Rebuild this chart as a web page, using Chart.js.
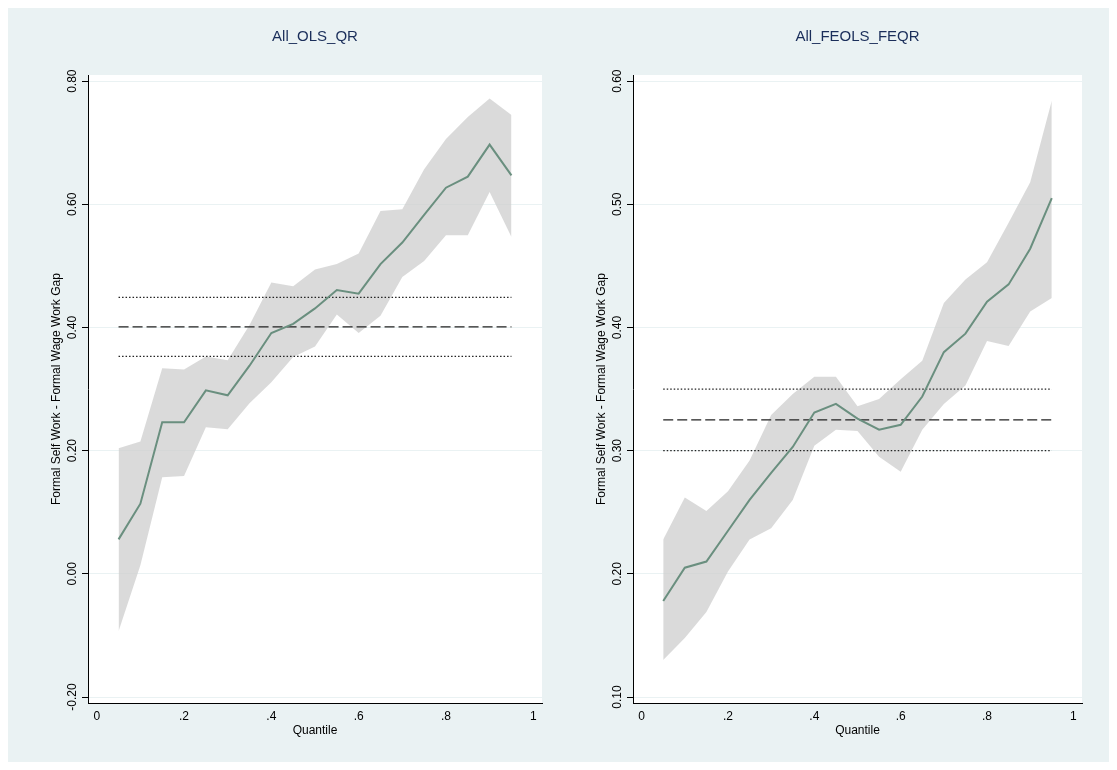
<!DOCTYPE html><html><head><script src="https://cdn.jsdelivr.net/npm/chart.js@4"></script>
<style>body{margin:0;background:#fff;width:1117px;height:770px;position:relative;overflow:hidden}
#bg{position:absolute;left:8px;top:8px;width:1101px;height:754px;background:#eaf2f3}
.c{position:absolute;top:10px;width:545px;height:750px}</style></head><body>
<div id="bg"></div>
<div class="c" style="left:10px"><canvas id="c1"></canvas></div>
<div class="c" style="left:555px"><canvas id="c2"></canvas></div>
<script>
const quantiles=[.05,.10,.15,.20,.25,.30,.35,.40,.45,.50,.55,.60,.65,.70,.75,.80,.85,.90,.95];
const olsCoef=[0.056,0.114,0.246,0.246,0.298,0.290,0.338,0.391,0.406,0.431,0.461,0.455,0.503,0.538,0.583,0.627,0.645,0.697,0.647];
const olsUpper=[0.204,0.215,0.334,0.332,0.353,0.347,0.404,0.473,0.467,0.494,0.503,0.520,0.589,0.592,0.657,0.706,0.742,0.772,0.745];
const olsLower=[-0.093,0.014,0.157,0.159,0.238,0.235,0.277,0.311,0.352,0.369,0.421,0.391,0.419,0.482,0.508,0.550,0.550,0.620,0.547];
const olsRef=[0.449,0.401,0.353];
const feCoef=[0.178,0.205,0.210,0.235,0.260,0.282,0.303,0.331,0.338,0.326,0.317,0.321,0.344,0.380,0.395,0.421,0.435,0.464,0.505];
const feUpper=[0.228,0.262,0.251,0.267,0.292,0.329,0.346,0.360,0.360,0.336,0.342,0.358,0.373,0.420,0.439,0.453,0.485,0.518,0.584];
const feLower=[0.130,0.148,0.169,0.202,0.228,0.237,0.260,0.304,0.317,0.316,0.295,0.283,0.317,0.338,0.353,0.389,0.385,0.413,0.424];
const feRef=[0.350,0.325,0.300];
const xTicks=[0,0.2,0.4,0.6,0.8,1];
const xLabels=['0','.2','.4','.6','.8','1'];
const olsTicks=[-0.2,0,0.2,0.4,0.6,0.8];
const feTicks=[0.1,0.2,0.3,0.4,0.5,0.6];
const yTitle='Formal Self Work - Formal Wage Work Gap';
const font='Arial, "Liberation Sans", sans-serif';
function pts(v){return quantiles.map((q,i)=>({x:q,y:v[i]}));}
function hline(y,dash){return {data:[{x:quantiles[0],y},{x:quantiles[quantiles.length-1],y}],borderColor:'#222',borderWidth:1.2,borderDash:dash,pointRadius:0,fill:false,order:1};}
function make(id,title,coef,up,lo,ref,ticks,padR){
 const yt={id:'yt',beforeDraw(ch){const a=ch.chartArea,c=ch.ctx;c.save();c.fillStyle='#fff';c.fillRect(a.left,a.top,a.right-a.left,a.bottom-a.top);c.restore();},
  afterDraw(ch){const c=ch.ctx,s=ch.scales.y,a=ch.chartArea;c.save();c.fillStyle='#000';
  c.font='12px '+font;c.textAlign='center';c.textBaseline='middle';
  ticks.forEach(t=>{c.save();c.translate(a.left-15,s.getPixelForValue(t));c.rotate(-Math.PI/2);c.fillText(t.toFixed(2),0,0);c.restore();});
  c.save();c.translate(a.left-31,(a.top+a.bottom)/2);c.rotate(-Math.PI/2);c.fillText(yTitle,0,0);c.restore();
  c.font='15px '+font;c.fillStyle='#1a2e5a';c.fillText(title,(a.left+a.right)/2,27);c.restore();}};
 new Chart(document.getElementById(id),{type:'line',data:{datasets:[
  {data:pts(coef),borderColor:'#6a8f7f',borderWidth:2,pointRadius:0,fill:false,tension:0,order:0},
  {data:pts(up),borderWidth:0,pointRadius:0,fill:'+1',backgroundColor:'rgba(205,205,205,0.75)',order:3},
  {data:pts(lo),borderWidth:0,pointRadius:0,fill:false,order:3},
  hline(ref[0],[1.5,2]),hline(ref[1],[10,4]),hline(ref[2],[1.5,2])]},
 options:{responsive:true,maintainAspectRatio:false,animation:false,
  layout:{padding:{top:65,right:padR,bottom:22,left:0}},
  plugins:{legend:{display:false},tooltip:{enabled:false}},
  scales:{x:{type:'linear',min:-0.02,max:1.02,afterBuildTicks(s){s.ticks=xTicks.map(v=>({value:v}));},
    ticks:{callback:(v)=>xLabels[xTicks.indexOf(v)],color:'#000',font:{size:12,family:font},padding:0,maxRotation:0},
    grid:{display:false,drawOnChartArea:false,tickLength:6,color:'#000'},border:{color:'#000'},
    title:{display:true,text:'Quantile',color:'#000',font:{size:12,family:font},padding:0}},
   y:{min:ticks[0]-0.01*(ticks[5]-ticks[0]),max:ticks[5]+0.01*(ticks[5]-ticks[0]),afterBuildTicks(s){s.ticks=ticks.map(v=>({value:v}));},
    afterFit(s){s.width=78;},ticks:{display:false},
    grid:{color:'#eaf2f3',tickLength:6,tickColor:'#000'},border:{color:'#000'}}}},plugins:[yt]});
}
make('c1','All_OLS_QR',olsCoef,olsUpper,olsLower,olsRef,olsTicks,13);
make('c2','All_FEOLS_FEQR',feCoef,feUpper,feLower,feRef,feTicks,18);
</script></body></html>
